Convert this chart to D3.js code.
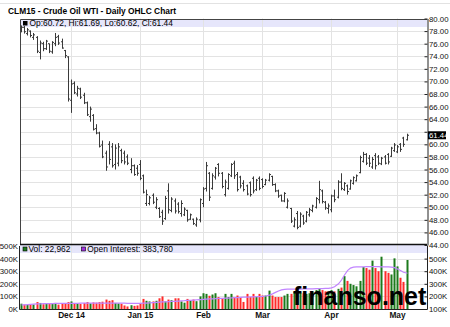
<!DOCTYPE html>
<html>
<head>
<meta charset="utf-8">
<script src="https://cdn.jsdelivr.net/npm/d3@7"></script>
<style>
  body { margin: 0; background: #fff; }
  svg { display: block; }
</style>
</head>
<body>
<div id="chart"></div>
<script>
// trading days per month (CLM15, Nov 2014 - May 2015)
const nov14 = [6,7,10,11,12,13,14,17,18,19,20,21,24,25,26,28];
const dec14 = [1,2,3,4,5,8,9,10,11,12,15,16,17,18,19,22,23,24,26,29,30,31];
const jan15 = [2,5,6,7,8,9,12,13,14,15,16,20,21,22,23,26,27,28,29,30];
const feb15 = [2,3,4,5,6,9,10,11,12,13,17,18,19,20,23,24,25,26,27];
const mar15 = [2,3,4,5,6,9,10,11,12,13,16,17,18,19,20,23,24,25,26,27,30,31];
const apr15 = [1,2,6,7,8,9,10,13,14,15,16,17,20,21,22,23,24,27,28,29,30];
const may15 = [1,4,5,6];

const opens = [
  78.0,78.6,77.6,78.0,77.0,77.0,74.6,76.0,75.2,76.0,74.7,76.0,77.1,76.3,74.9,73.9,
  67.0,69.7,68.0,68.8,67.8,66.6,64.4,64.6,62.5,61.8,59.9,58.6,60.0,59.6,56.8,57.0,59.0,58.6,58.0,56.0,56.6,56.2,
  56.8,55.0,50.6,50.6,51.9,50.0,49.8,49.2,48.2,52.6,49.5,51.0,50.5,49.0,48.8,49.5,48.1,48.1,47.2,48.0,
  50.6,53.0,55.4,53.0,54.8,56.8,55.4,52.0,53.0,55.0,57.0,55.2,54.8,53.8,53.4,53.9,54.6,52.8,54.6,
  54.4,53.6,54.3,54.9,53.6,52.6,51.9,51.0,50.0,49.8,47.0,49.0,47.0,48.6,47.8,48.8,49.5,50.0,51.2,52.6,50.8,49.8,
  49.6,51.8,51.6,54.0,52.8,53.4,52.9,53.8,54.2,55.5,57.3,58.4,57.8,56.4,58.2,58.0,56.9,58.0,58.4,58.1,59.0,
  58.8,60.0,61.0,60.72
];
const highs = [
  78.9,78.8,78.5,78.1,77.7,77.2,76.5,76.3,76.6,76.0,76.4,77.7,77.4,76.8,75.0,74.0,
  70.3,70.0,69.3,69.0,68.2,66.8,66.0,64.8,63.2,62.0,60.6,59.0,60.5,60.2,60.0,60.2,59.3,59.0,58.4,57.8,56.8,56.7,
  57.5,55.2,52.8,51.8,52.2,51.6,50.0,49.6,51.8,53.8,51.6,51.4,50.8,51.1,50.0,49.6,49.0,48.2,48.4,51.4,
  53.2,57.2,55.6,55.4,56.4,57.0,55.6,54.4,55.4,57.0,57.4,55.6,55.0,54.3,53.6,54.1,54.9,54.5,54.9,
  54.6,54.5,55.4,55.0,53.8,52.8,52.0,52.4,51.4,49.9,48.4,49.4,49.2,48.8,49.4,49.9,50.4,51.6,54.2,52.8,51.0,50.6,
  52.0,52.8,54.3,55.4,54.0,53.6,54.4,54.9,55.2,58.2,58.8,58.6,58.3,58.0,58.6,58.3,58.0,58.3,58.6,59.6,60.2,
  59.9,60.2,61.2,61.69
];
const lows = [
  77.8,77.6,77.3,77.0,76.6,74.5,73.5,74.8,75.0,74.5,74.4,75.6,75.8,75.2,73.7,66.8,
  65.0,68.0,67.6,67.2,66.4,64.5,63.6,62.2,61.6,59.5,57.8,55.8,56.8,56.3,56.0,56.5,57.0,56.8,56.7,55.4,55.0,55.0,
  54.3,52.2,50.2,50.3,50.5,49.7,48.3,47.2,48.0,49.0,49.2,49.0,49.0,48.5,48.6,47.7,48.0,47.2,46.9,47.6,
  50.0,52.5,51.0,52.8,54.4,54.9,53.0,51.7,52.8,54.8,54.5,52.5,53.0,52.5,51.9,51.7,52.2,52.6,52.7,
  53.0,53.5,54.1,53.4,52.4,51.5,50.9,50.8,49.8,47.5,46.8,46.5,46.8,47.2,47.6,48.5,49.2,49.8,50.6,50.6,49.6,49.0,
  49.2,50.8,51.4,52.7,52.6,52.0,52.8,53.6,54.1,55.4,57.1,56.7,56.4,56.1,56.0,56.7,56.7,56.8,56.8,58.0,58.8,
  58.6,58.8,59.6,60.62
];
const closes = [
  78.6,77.9,78.2,77.3,77.4,74.8,76.1,75.2,76.4,74.8,76.2,77.0,76.1,75.3,74.1,67.2,
  69.6,68.2,68.9,67.5,66.6,64.7,65.6,62.4,61.8,59.7,58.0,56.4,57.6,56.6,59.4,59.6,57.4,57.2,57.0,56.6,55.2,55.4,
  54.6,52.4,52.0,51.5,50.8,51.2,48.5,47.8,51.4,49.6,51.3,49.4,49.3,50.6,49.7,48.0,48.8,47.4,48.1,51.2,
  52.9,56.6,51.6,55.0,56.2,55.4,53.3,54.0,55.2,56.8,55.0,52.8,53.4,52.8,52.1,52.0,52.6,54.3,53.0,
  53.3,54.3,55.2,53.6,52.6,51.8,51.0,52.2,51.0,47.8,48.0,46.8,48.9,47.5,49.2,49.6,50.2,51.4,52.8,50.9,49.9,50.2,
  51.8,51.2,54.0,53.0,53.8,52.5,54.2,54.7,55.0,57.9,58.4,57.0,57.0,57.6,56.6,57.0,57.8,57.0,57.2,59.4,59.9,
  59.6,59.2,60.0,61.44
];
// daily volume, thousands
const volume = [
  42,35,32,38,36,55,48,38,40,45,42,48,35,40,45,55,
  60,45,42,40,48,55,45,52,50,55,58,75,65,70,48,45,42,28,20,30,25,28,
  45,80,65,60,60,65,85,100,60,75,70,85,85,60,50,80,65,75,62,100,
  125,120,105,115,125,95,85,120,95,120,95,107,95,56,120,95,120,95,120,
  107,107,146,107,95,95,95,107,120,120,133,133,130,125,120,125,140,150,159,150,140,135,
  150,140,160,170,261,223,200,190,180,223,333,325,312,384,325,300,415,300,287,274,402,
  338,248,215,389
];
// open interest, thousands
const openInterest = [
  132,133,135,137,139,140,141,142,142,143,143,144,144,145,145,145,
  145,145,145,146,146,146,146,146,146,146,147,147,147,147,146,146,146,146,145,145,145,145,
  145,146,147,149,151,153,155,156,157,158,160,161,163,165,166,168,169,171,173,175,
  177,179,180,181,182,184,185,186,187,188,190,191,193,194,195,196,197,198,199,
  200,203,210,220,232,243,252,256,257,257,257,258,258,259,259,260,260,261,262,262,263,264,
  268,277,300,330,370,405,425,432,434,435,435,436,436,436,436,436,435,435,434,432,428,
  418,405,392,384
];
const monthTicks = ["2014-12-01","2015-01-02","2015-02-02","2015-03-02","2015-04-01","2015-05-01"];
const monthLabels = ["Dec 14","Jan 15","Feb","Mar","Apr","May"];

const months = [["2014-11",nov14],["2014-12",dec14],["2015-01",jan15],["2015-02",feb15],
                ["2015-03",mar15],["2015-04",apr15],["2015-05",may15]];
const dates = months.flatMap(([m, days]) => days.map(d => m + "-" + String(d).padStart(2, "0")));

const w = 450, h = 327;
const left = 20, right = 427;
const pTop = 18.5, pBot = 245;
const vTop = 246, vBot = 309;
const narrow = '"Liberation Sans Narrow", "Arial Narrow", sans-serif';

const svg = d3.select('#chart').append('svg')
    .attr('width', w)
    .attr('height', h)
    .style('font-family', narrow);

const x = d3.scaleBand().domain(dates).range([19.3, 408.1]).paddingInner(0.35).paddingOuter(0.175);
const cx = d => Math.round(x(d) + x.bandwidth() / 2) + 0.5;
const yP = d3.scaleLinear().domain([44, 80]).range([pBot, pTop]);
const yV = d3.scaleLinear().domain([0, 500]).range([vBot, vTop]);
const yOI = d3.scaleLinear().domain([100, 600]).range([vBot, vTop]);

const lastClose = closes[closes.length - 1];

svg.append('line').attr('x1', 0).attr('x2', w).attr('y1', 3.5).attr('y2', 3.5).attr('stroke', '#e2e2e2');

// title
svg.append('text').attr('x', 8).attr('y', 14)
    .style('font-family', '"Liberation Sans", Arial, sans-serif')
    .style('font-weight', 'bold').style('font-size', '8.4px')
    .text('CLM15 - Crude Oil WTI - Daily OHLC Chart');

// legend bands
svg.append('rect').attr('x', left).attr('y', 19).attr('width', right - left).attr('height', 8).attr('fill', '#e6e6fb');
svg.append('rect').attr('x', left).attr('y', 245).attr('width', right - left).attr('height', 8).attr('fill', '#e6e6fb');

// grid
const grid = svg.append('g').attr('stroke', '#e3e3e3').attr('stroke-width', 1);
d3.range(46, 79, 2).forEach(v => {
  grid.append('line').attr('x1', left).attr('x2', right)
      .attr('y1', Math.round(yP(v)) + 0.5).attr('y2', Math.round(yP(v)) + 0.5);
});
[100, 200, 300, 400].forEach(v => {
  grid.append('line').attr('x1', left).attr('x2', right)
      .attr('y1', Math.round(yV(v)) + 0.5).attr('y2', Math.round(yV(v)) + 0.5);
});
monthTicks.forEach(d => {
  grid.append('line').attr('x1', cx(d)).attr('x2', cx(d)).attr('y1', pTop).attr('y2', vBot);
});

// OHLC bars
const ohlc = svg.append('g').attr('stroke', '#3a3a3a').attr('stroke-width', 1);
dates.forEach((d, i) => {
  const xc = cx(d);
  ohlc.append('line').attr('x1', xc).attr('x2', xc).attr('y1', yP(highs[i])).attr('y2', yP(lows[i]));
  ohlc.append('line').attr('x1', xc - 1.5).attr('x2', xc).attr('y1', yP(opens[i])).attr('y2', yP(opens[i]));
  ohlc.append('line').attr('x1', xc).attr('x2', xc + 1.5).attr('y1', yP(closes[i])).attr('y2', yP(closes[i]));
});

// volume bars
svg.append('g').selectAll('rect')
    .data(dates)
    .enter()
    .append('rect')
    .attr('x', d => cx(d) - 1)
    .attr('width', 2)
    .attr('y', (d, i) => yV(volume[i]))
    .attr('height', (d, i) => vBot - yV(volume[i]))
    .attr('fill', (d, i) => closes[i] >= opens[i] ? '#1c7a1c' : '#ff2a2a');

// open interest line
svg.append('path')
    .datum(dates)
    .attr('fill', 'none')
    .attr('stroke', '#c184ff')
    .attr('stroke-width', 1.2)
    .attr('d', d3.line().x(d => cx(d)).y((d, i) => yOI(openInterest[i])));

// frames
svg.append('path').attr('fill', 'none').attr('stroke', '#444')
    .attr('d', `M${left + 0.5},${pBot}V19.5H${right}`);
svg.append('line').attr('x1', left).attr('x2', right).attr('y1', 244.5).attr('y2', 244.5)
    .attr('stroke', '#111').attr('stroke-width', 1.6);
svg.append('path').attr('fill', 'none').attr('stroke', '#222')
    .attr('d', `M${left - 0.5},${vTop}V${vBot + 0.5}H${right}`);

// axes
const priceAxis = svg.append('g')
    .attr('transform', `translate(${right + 0.5},0)`)
    .call(d3.axisRight(yP).tickValues(d3.range(44, 80.1, 2)).tickFormat(d3.format('.2f'))
      .tickSize(-3).tickSizeOuter(0).tickPadding(1.5));
// the label hidden under the last-close badge
priceAxis.selectAll('.tick').filter(d => Math.abs(yP(d) - yP(lastClose)) < 7).select('text').remove();
const oiAxis = svg.append('g')
    .attr('transform', `translate(${right + 0.5},0)`)
    .call(d3.axisRight(yOI).tickValues([100, 200, 300, 400, 500]).tickFormat(d => d + 'K')
      .tickSize(-3).tickSizeOuter(0).tickPadding(1.5));
oiAxis.select('.domain').attr('d', `M0,${vTop}V${vBot + 0.5}`);
const volAxis = svg.append('g')
    .attr('transform', `translate(${left - 0.5},0)`)
    .call(d3.axisLeft(yV).tickValues([0, 100, 200, 300, 400, 500]).tickFormat(d => d + 'K')
      .tickSize(0).tickPadding(1.5));
volAxis.select('.domain').remove();
const timeAxis = svg.append('g')
    .attr('transform', `translate(0,${vBot})`)
    .call(d3.axisBottom(x).tickValues(monthTicks).tickFormat((d, i) => monthLabels[i])
      .tickSize(0).tickPadding(3.5));
timeAxis.select('.domain').remove();
timeAxis.selectAll('.tick').attr('transform', d => `translate(${cx(d)},0)`);

svg.selectAll('.tick text').style('font-family', narrow).style('font-size', '7.8px').attr('fill', '#111');
timeAxis.selectAll('text').style('font-weight', 'bold').style('font-size', '8.3px');
svg.selectAll('.domain').attr('stroke', '#222');
svg.selectAll('.tick line').attr('stroke', '#222');

// legends
svg.append('rect').attr('x', 23).attr('y', 21).attr('width', 4.5).attr('height', 4.5).attr('fill', '#000');
svg.append('text').attr('x', 29.5).attr('y', 26.2).style('font-size', '8.4px')
    .text(`Op:${opens[opens.length - 1].toFixed(2)}, Hi:${highs[highs.length - 1].toFixed(2)}, Lo:${lows[lows.length - 1].toFixed(2)}, Cl:${lastClose.toFixed(2)}`);
svg.append('rect').attr('x', 23).attr('y', 247).attr('width', 4).attr('height', 4)
    .attr('fill', '#1c7a1c').attr('stroke', '#000').attr('stroke-width', 0.6);
svg.append('text').attr('x', 28.5).attr('y', 252.2).style('font-size', '8.4px').text('Vol: 22,962');
svg.append('rect').attr('x', 81.5).attr('y', 247).attr('width', 4).attr('height', 4)
    .attr('fill', '#a030e0').attr('stroke', '#000').attr('stroke-width', 0.6);
svg.append('text').attr('x', 87.3).attr('y', 252.2).style('font-size', '8.4px')
    .text('Open Interest: ' + d3.format(',')(383780));

// last close badge
svg.append('rect').attr('x', 428).attr('y', yP(lastClose) - 4).attr('width', 18).attr('height', 8).attr('fill', '#000');
svg.append('text').attr('x', 429).attr('y', yP(lastClose) + 2.6).attr('fill', '#fff')
    .style('font-size', '7.8px').text(lastClose.toFixed(2));

// watermark
svg.append('text').attr('x', 293).attr('y', 305)
    .style('font-family', '"Liberation Sans", Arial, sans-serif')
    .style('font-weight', 'bold').style('font-size', '25px')
    .text('finanso.net');
</script>
</body>
</html>
